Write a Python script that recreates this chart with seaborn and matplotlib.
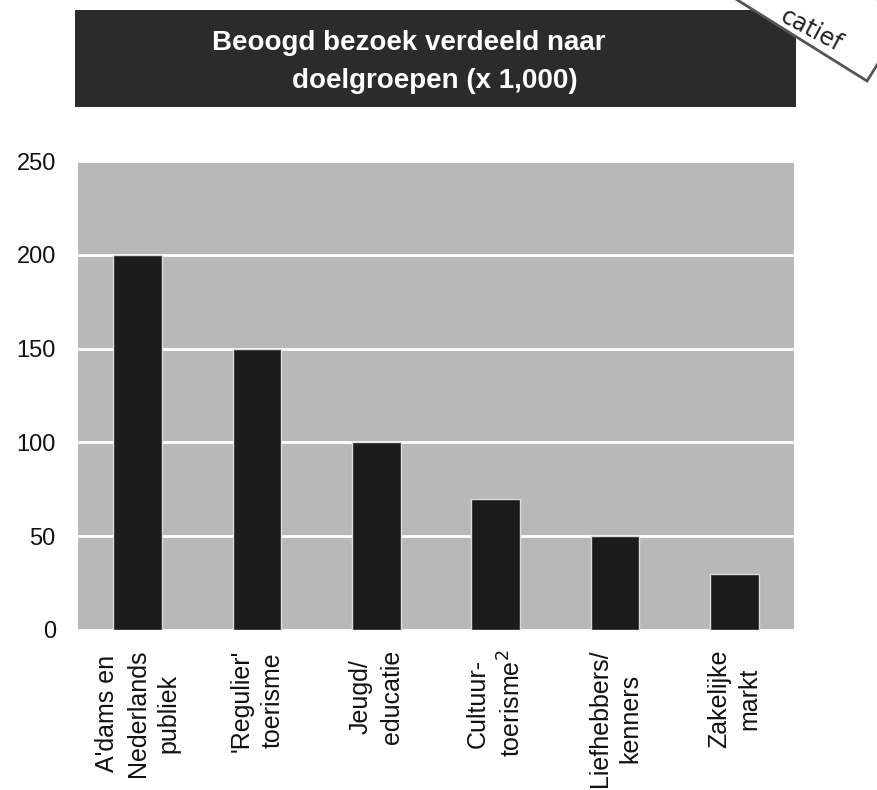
import matplotlib
matplotlib.use("Agg")
import matplotlib.pyplot as plt
from matplotlib.patches import Rectangle, Polygon
import seaborn as sns
import pandas as pd
import numpy as np

categories = [
    "A'dams en\nNederlands\npubliek",
    "'Regulier'\ntoerisme",
    "Jeugd/\neducatie",
    "Cultuur-\ntoerisme$^2$",
    "Liefhebbers/\nkenners",
    "Zakelijke\nmarkt",
]
values = [200, 150, 100, 70, 50, 30]
yticks = [0, 50, 100, 150, 200, 250]
title_line1 = "Beoogd bezoek verdeeld naar"
title_line2 = "doelgroepen (x 1,000)"
sticker_text = "catief"

sns.set_theme(style="darkgrid")
plt.rcParams["font.family"] = ["Liberation Sans", "DejaVu Sans"]

W, H = 877, 790
fig = plt.figure(figsize=(W / 100, H / 100), dpi=100)
fig.patch.set_facecolor("white")
ax = fig.add_axes([78 / W, 1 - 630 / H, (794 - 78) / W, (630 - 161) / H])

df = pd.DataFrame({"cat": categories, "val": values})
sns.barplot(data=df, x="cat", y="val", color="#1c1c1c", saturation=1,
            width=0.41, ax=ax, zorder=3, edgecolor="#dcdcdc", linewidth=1)

ax.set_facecolor("#b8b8b8")
ax.set_ylim(0, 250)
ax.set_yticks(yticks)
ax.set_xlim(-0.5, len(categories) - 0.5)
ax.grid(axis="y", color="white", linewidth=2)
ax.grid(axis="x", visible=False)
ax.set_xlabel("")
ax.set_ylabel("")
for s in ax.spines.values():
    s.set_visible(False)
ax.tick_params(axis="y", length=0, pad=16, labelsize=17, labelcolor="#111111")
ax.tick_params(axis="x", length=0, pad=14, labelsize=18, labelcolor="#111111")
ax.set_xticks(range(len(categories)))
ax.set_xticklabels(categories, rotation=90, ha="center", va="top",
                   multialignment="center", linespacing=1.35)


def px(x, y):
    return (x / W, 1 - y / H)


# title box
fig.patches.append(Rectangle(px(75, 107), (796 - 75) / W, 97 / H,
                             transform=fig.transFigure, facecolor="#2b2b2b",
                             edgecolor="none", zorder=1))
fig.text(*px(409, 50), title_line1, ha="center", va="baseline", color="white",
         fontsize=20, fontweight="bold", zorder=2)
fig.text(*px(435, 88), title_line2, ha="center", va="baseline", color="white",
         fontsize=20, fontweight="bold", zorder=2)

# sticker in the top right corner (partly outside the picture)
a = np.deg2rad(32)
u = np.array([np.cos(a), np.sin(a)])
v = np.array([-np.sin(a), np.cos(a)])
C = np.array([867.0, 81.0])
corners = [C, C - 230 * u, C - 230 * u - 75 * v, C - 75 * v]
fig.patches.append(Polygon([px(*c) for c in corners], closed=True,
                           transform=fig.transFigure, facecolor="white",
                           edgecolor="#555555", linewidth=2, zorder=4))
fig.text(*px(779, 21), sticker_text, rotation=-28, rotation_mode="anchor",
         ha="left", va="baseline", fontsize=17, color="#222222",
         family=["DejaVu Sans"], zorder=5)

fig.savefig("out.png", dpi=100)
